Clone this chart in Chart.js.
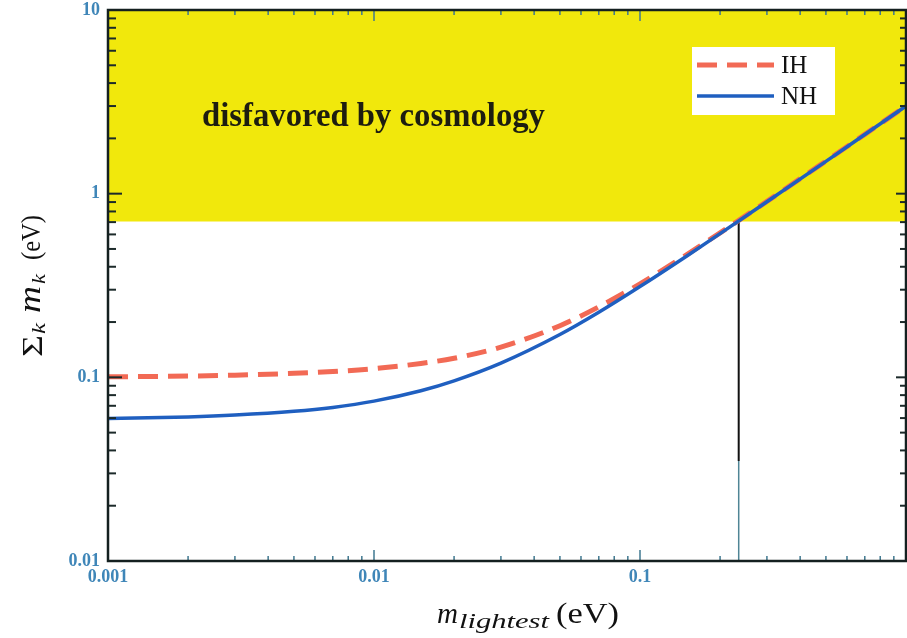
<!DOCTYPE html>
<html>
<head>
<meta charset="utf-8">
<script src="https://cdn.jsdelivr.net/npm/chart.js@4"></script>
<style>
  body{margin:0;background:#fff;}
  canvas{display:block;}
</style>
</head>
<body>
<canvas id="massChart" width="907" height="638"></canvas>
<script>
// lightest neutrino mass (eV) and summed masses
const mLightest = [0.001, 0.002, 0.003, 0.005, 0.007, 0.01, 0.015, 0.02, 0.03, 0.05, 0.07, 0.1, 0.15, 0.2, 0.3, 0.5, 0.7, 1];
const sumNH = [0.0597, 0.0609, 0.0623, 0.0653, 0.0686, 0.0742, 0.0845, 0.0957, 0.1195, 0.171, 0.226, 0.312, 0.458, 0.606, 0.904, 1.50, 2.10, 3.0];
const sumIH = [0.1006, 0.1016, 0.1027, 0.1051, 0.1075, 0.1115, 0.119, 0.127, 0.146, 0.191, 0.242, 0.323, 0.466, 0.612, 0.908, 1.505, 2.104, 3.0];

// cosmology bound and the mass where NH crosses it
const cosmoBound = 0.705;
const cosmoRange = [0.001, 1];
const mAtBound = 0.235;
const lineBreak = 0.035; // where the vertical line changes colour
const yTickLabels = [0.01, 0.1, 1, 10];
const xTickLabels = [0.001, 0.01, 0.1];

const isDecade = v => Math.abs(Math.log10(v) - Math.round(Math.log10(v))) < 1e-6;
const fmt = v => v >= 1 ? String(Math.round(v)) : String(+v.toPrecision(1));

const pts = (xs, ys) => xs.map((x, i) => ({x: x, y: ys[i]}));

const serif = '"Liberation Serif", "DejaVu Serif", serif';

// draw text pieces squeezed/stretched to given widths, starting at x0
function rich(ctx, parts, x0, by){
  let cur = x0;
  parts.forEach(p => {
    cur += p.gap || 0;
    ctx.font = p.font;
    const w = ctx.measureText(p.t).width;
    const sx = p.w ? p.w / w : 1;
    ctx.save();
    ctx.translate(cur, by + (p.dy || 0));
    ctx.scale(sx, 1);
    ctx.fillText(p.t, 0, 0);
    ctx.restore();
    cur += w * sx;
  });
}

// frame, inward ticks, legend, annotation and axis titles
const decor = {
  id: 'decor',
  afterDatasetsDraw(chart){
    const {ctx, chartArea: a, scales: {x, y}} = chart;
    ctx.save();

    // annotation text
    ctx.fillStyle = '#1d1d10';
    let fs = 26;
    ctx.font = `bold ${fs}px ${serif}`;
    const txt = 'disfavored by cosmology';
    fs = fs * 343 / ctx.measureText(txt).width;
    ctx.font = `bold ${fs}px ${serif}`;
    ctx.textBaseline = 'alphabetic';
    ctx.textAlign = 'left';
    ctx.fillText(txt, 202, 126);

    // legend
    ctx.fillStyle = '#fff';
    ctx.fillRect(692, 47, 143, 68);
    const items = [chart.data.datasets[1], chart.data.datasets[0]];
    items.forEach((ds, i) => {
      const yy = 65 + i * 31;
      ctx.beginPath();
      ctx.setLineDash(ds.borderDash || []);
      ctx.strokeStyle = ds.borderColor;
      ctx.lineWidth = ds.borderWidth;
      ctx.moveTo(697, yy);
      ctx.lineTo(774, yy);
      ctx.stroke();
      ctx.setLineDash([]);
      ctx.fillStyle = '#111';
      ctx.font = `25px ${serif}`;
      ctx.textBaseline = 'middle';
      ctx.fillText(ds.label, 781, yy + 1);
    });

    // inward ticks
    const tick = (x1, y1, x2, y2, col, w) => {
      ctx.beginPath();
      ctx.strokeStyle = col;
      ctx.lineWidth = w;
      ctx.moveTo(x1, y1);
      ctx.lineTo(x2, y2);
      ctx.stroke();
    };
    for (let e = -2; e <= 0; e++) {
      for (let k = 1; k <= 9; k++) {
        const py = y.getPixelForValue(k * Math.pow(10, e));
        const len = k === 1 ? 14 : 8;
        tick(a.left, py, a.left + len, py, '#1c2a2a', 2);
        tick(a.right, py, a.right - (k === 1 ? 10 : 6), py, '#1c2a2a', 2);
      }
    }
    for (let e = -3; e <= -1; e++) {
      for (let k = 1; k <= 9; k++) {
        const px = x.getPixelForValue(k * Math.pow(10, e));
        const len = k === 1 ? 11 : 5;
        tick(px, a.bottom, px, a.bottom - len, '#3f7890', 1.5);
        tick(px, a.top, px, a.top + len, '#3f7890', 1.5);
      }
    }

    // frame
    ctx.strokeStyle = '#142020';
    ctx.lineWidth = 2.5;
    ctx.strokeRect(a.left, a.top, a.right - a.left, a.bottom - a.top);

    // axis titles
    ctx.fillStyle = '#111';
    ctx.textBaseline = 'alphabetic';
    ctx.textAlign = 'left';
    rich(ctx, [
      {t: 'm', font: `italic 30px ${serif}`, w: 21},
      {t: 'lightest', font: `italic 21px ${serif}`, dy: 5, gap: 1, w: 90},
      {t: '(eV)', font: `30px ${serif}`, gap: 7, w: 63}
    ], 437, 623);

    ctx.translate(40, 0);
    ctx.rotate(-Math.PI / 2);
    rich(ctx, [
      {t: 'Σ', font: `29px ${serif}`, dy: 2, w: 22},
      {t: 'k', font: `italic 19px ${serif}`, dy: 5, gap: 1, w: 11},
      {t: 'm', font: `italic 31px ${serif}`, gap: 10, w: 27},
      {t: 'k', font: `italic 19px ${serif}`, dy: 5, gap: 2, w: 10},
      {t: '(eV)', font: `27px ${serif}`, gap: 14, w: 45}
    ], -357, 0);

    ctx.restore();
  }
};

const tickFont = {family: serif, weight: 'bold', size: 18};

new Chart(document.getElementById('massChart'), {
  type: 'line',
  data: {
    datasets: [
      {
        label: 'NH', data: pts(mLightest, sumNH),
        borderColor: '#1f5fc0', borderWidth: 3.5, pointRadius: 0,
        cubicInterpolationMode: 'monotone', fill: false, order: 0
      },
      {
        label: 'IH', data: pts(mLightest, sumIH),
        borderColor: '#f26a55', borderWidth: 5, borderDash: [20, 10], pointRadius: 0,
        cubicInterpolationMode: 'monotone', fill: false, order: 1
      },
      {
        label: 'bound', data: [{x: mAtBound, y: cosmoBound}, {x: mAtBound, y: lineBreak}],
        borderColor: '#111', borderWidth: 2, pointRadius: 0, fill: false, order: 2
      },
      {
        label: 'bound2', data: [{x: mAtBound, y: lineBreak}, {x: mAtBound, y: 0.01}],
        borderColor: '#4f8595', borderWidth: 1.5, pointRadius: 0, fill: false, order: 3
      },
      {
        label: 'cosmo', data: cosmoRange.map(v => ({x: v, y: cosmoBound})),
        borderWidth: 0, borderColor: 'rgba(0,0,0,0)', backgroundColor: '#f1e80c',
        pointRadius: 0, fill: 'end', order: 5
      }
    ]
  },
  options: {
    responsive: false,
    devicePixelRatio: 1,
    animation: false,
    layout: {padding: {top: 10, right: 1, left: 0, bottom: 0}},
    plugins: {legend: {display: false}, tooltip: {enabled: false}},
    scales: {
      x: {
        type: 'logarithmic', min: 0.001, max: 1,
        grid: {display: false, drawTicks: false},
        border: {display: false},
        afterFit: s => { s.height = 77; s.paddingLeft = 0; s.paddingRight = 0; },
        ticks: {
          autoSkip: false, maxRotation: 0, padding: 6, color: '#3f86b8', font: tickFont,
          callback: v => (isDecade(v) && xTickLabels.some(t => Math.abs(t - v) < 1e-9)) ? fmt(v) : ''
        }
      },
      y: {
        type: 'logarithmic', min: 0.01, max: 10,
        grid: {display: false, drawTicks: false},
        border: {display: false},
        afterFit: s => { s.width = 108; s.paddingTop = 0; s.paddingBottom = 0; },
        ticks: {
          autoSkip: false, padding: 8, color: '#3f86b8', font: tickFont,
          callback: v => (isDecade(v) && yTickLabels.some(t => Math.abs(t - v) < 1e-9)) ? fmt(v) : ''
        }
      }
    }
  },
  plugins: [decor]
});
</script>
</body>
</html>
